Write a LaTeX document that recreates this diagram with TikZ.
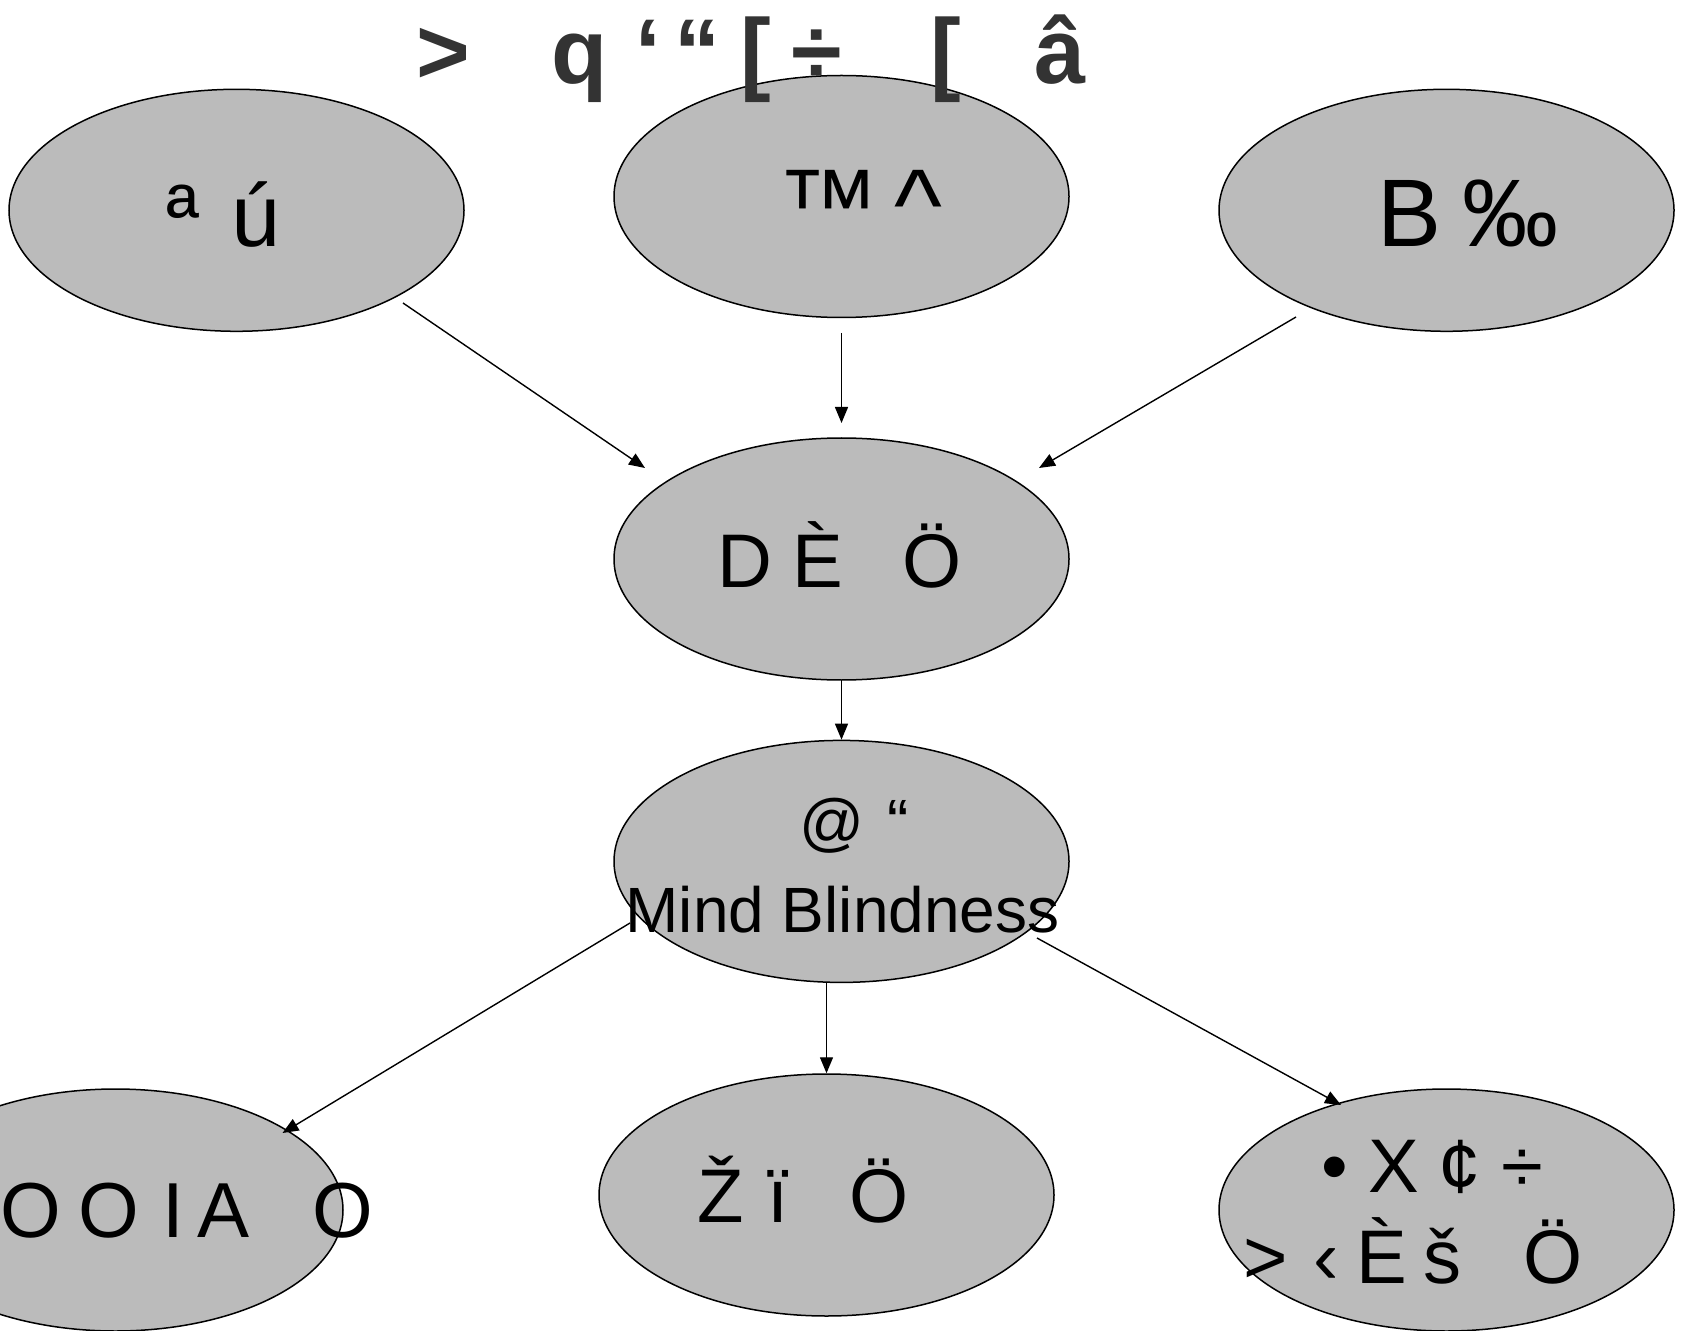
\documentclass[tikz,border=0pt]{standalone}
\usepackage{fontspec}
\setmainfont{Liberation Sans}
\usetikzlibrary{shapes.geometric,arrows.meta}
\definecolor{bubblegray}{HTML}{BBBBBB}
\definecolor{titlegray}{HTML}{333333}
\newcommand{\slot}[2]{\makebox[#1pt][l]{#2}}
\newcommand{\fsz}[1]{\fontsize{#1pt}{#1pt}\selectfont}

\begin{document}
\begin{tikzpicture}[
    x=0.5pt, y=-0.5pt,
    bubble/.style={ellipse,draw,fill=bubblegray,line width=0.75pt,
      minimum width=227.5pt,minimum height=121pt,inner sep=0pt},
    txt/.style={anchor=base west,inner sep=0pt},
    link/.style={-{Triangle[length=8pt,width=6.5pt]},line width=0.7pt},
  ]
  \useasboundingbox[fill=white] (0,0) rectangle (1685,1331);

  % ellipses
  \node[bubble] (tl) at (236.5,210.3) {};
  \node[bubble] (tm) at (841.5,196.5) {};
  \node[bubble] (tr) at (1446.5,210.3) {};
  \node[bubble] (mid) at (841.5,559) {};
  \node[bubble] (mind) at (841.5,861.4) {};
  \node[bubble] (bl) at (115.5,1210) {};
  \node[bubble] (bm) at (826.5,1195) {};
  \node[bubble] (br) at (1446.5,1210) {};

  % arrows
  \draw[link] ([shift={(166.5,92.7)}]tl.center) -- ([shift={(-196.5,-91)}]mid.center);
  \draw[link] ([shift={(0,136.5)}]tm.center) -- ([shift={(0,-136)}]mid.center);
  \draw[link] ([shift={(-150.5,106.7)}]tr.center) -- ([shift={(197.5,-91)}]mid.center);
  \draw[link] (mid) -- (mind);
  \draw[link] ([shift={(-211.5,61.6)}]mind.center) -- ([shift={(167,-77)}]bl.center);
  \draw[link] (bm.north |- mind.south) -- (bm);
  \draw[link] ([shift={(195.5,76.6)}]mind.center) -- ([shift={(-105.5,-105)}]br.center);

  % texts
  \node[txt,font=\fsz{44}] (tltext) at (166,247) {\slot{32.5}{ª}ú};
  \node[txt,font=\fsz{51}] (tmtext) at (777,241) {\slot{58.5}{™}\textasciicircum};
  \node[txt,font=\fsz{48}] (trtext) at (1377,247) {\slot{42.5}{B}‰};
  \node[txt,font=\fsz{38}] (midtext) at (717,587) {\slot{37.5}{D}\slot{55}{È}Ö};
  \node[txt,font=\fsz{32}] (mindtop) at (799,844) {\slot{44}{@}“};
  \node[anchor=base,inner sep=0pt,font=\fsz{32}] (mindbot) at (842.5,932) {Mind Blindness};
  \node[txt,font=\fsz{39}] (bltext) at (0,1237) {\slot{39}{O}\slot{42}{O}\slot{17.5}{I}\slot{57.5}{A}O};
  \node[txt,font=\fsz{38}] (bmtext) at (697,1222) {\slot{35}{Ž}\slot{41}{ï}Ö};
  \node[txt,font=\fsz{38}] (brtop) at (1321,1192) {\slot{23.5}{•}\slot{35}{X}\slot{31.5}{¢}÷};
  \node[txt,font=\fsz{38}] (brbot) at (1243,1283) {\slot{35}{>}\slot{21.5}{‹}\slot{33.5}{È}\slot{50}{š}Ö};

  \node[txt,font=\fsz{46}\bfseries,text=titlegray] (title) at (416,84)
    {\slot{67.5}{>}\slot{42}{q}\slot{19.5}{‘}\slot{33}{“}\slot{25.5}{[}\slot{69.5}{÷}\slot{52}{[}â};
\end{tikzpicture}
\end{document}
